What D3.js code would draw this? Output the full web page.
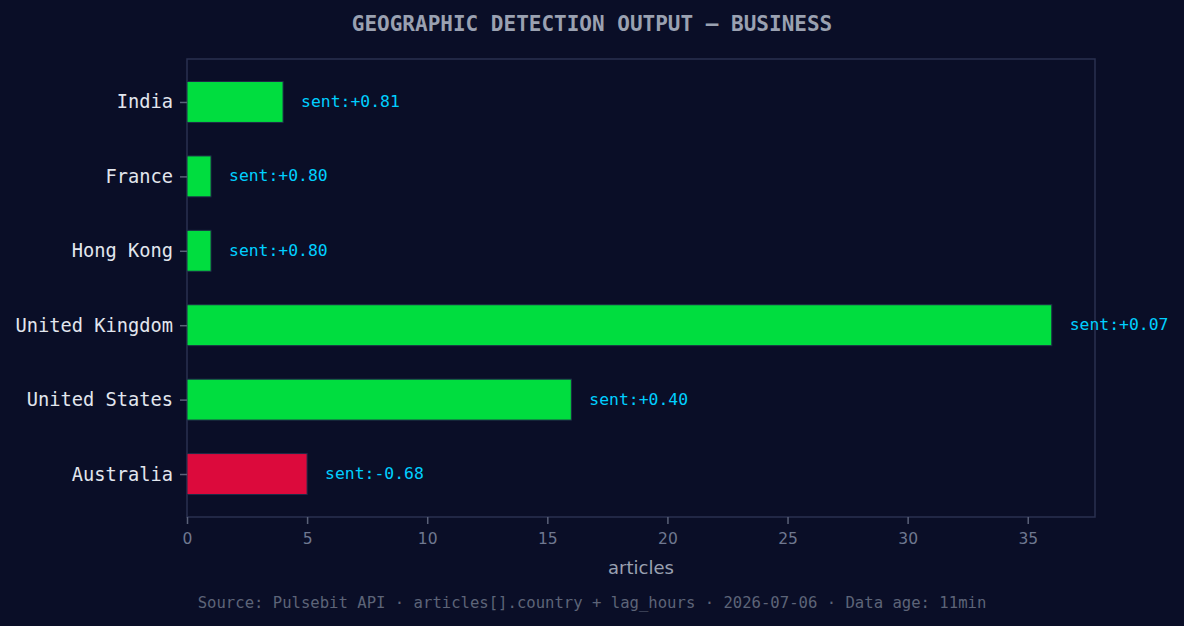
<!DOCTYPE html>
<html><head><meta charset="utf-8">
<script src="https://cdn.jsdelivr.net/npm/d3@7"></script>
<style>html,body{margin:0;padding:0;background:#0a0e27;}svg{display:block;}</style>
</head><body>
<svg id="chart" width="1184" height="626"></svg>
<script>
const countries = ["India","France","Hong Kong","United Kingdom","United States","Australia"];
const articles = [4,1,1,36,16,5];
const sentiment = [0.81,0.80,0.80,0.07,0.40,-0.68];
const xTicks = [0,5,10,15,20,25,30,35];
const title = "GEOGRAPHIC DETECTION OUTPUT — BUSINESS";
const xLabel = "articles";
const footer = "Source: Pulsebit API · articles[].country + lag_hours · 2026-07-06 · Data age: 11min";

const W=1184,H=626;
const m={left:187,right:1095,top:59,bottom:517};
const svg=d3.select("#chart");
svg.append("rect").attr("width",W).attr("height",H).attr("fill","#0a0e27");

const x=d3.scaleLinear().domain([0,d3.max(articles)*1.05]).range([m.left,m.right]);
const y=d3.scaleLinear().domain([-0.5775,5.5775]).range([m.top,m.bottom]);
const barH=0.55*(y(1)-y(0));

// frame
svg.append("rect").attr("x",m.left).attr("y",m.top).attr("width",m.right-m.left).attr("height",m.bottom-m.top)
  .attr("fill","none").attr("stroke","#2a3150").attr("stroke-width",1.5);

// bars
svg.selectAll("rect.bar").data(countries).enter().append("rect").attr("class","bar")
  .attr("x",x(0)).attr("y",(d,i)=>y(i)-barH/2)
  .attr("width",(d,i)=>x(articles[i])-x(0)).attr("height",barH)
  .attr("fill",(d,i)=>sentiment[i]>=0?"#00dd3f":"#dc0a3c")
  .attr("stroke","#1f2b48").attr("stroke-width",1);

// value labels
svg.selectAll("text.val").data(countries).enter().append("text").attr("class","val")
  .attr("x",(d,i)=>x(articles[i])+18).attr("y",(d,i)=>y(i))
  .attr("dy","0.3em").attr("fill","#00cfff")
  .style("font-family","'DejaVu Sans Mono', monospace").style("font-size","16.4px")
  .text((d,i)=>"sent:"+(sentiment[i]>=0?"+":"")+sentiment[i].toFixed(2));

// y axis
const yAxis=svg.append("g").attr("transform",`translate(${m.left},0)`)
  .call(d3.axisLeft(y).tickValues(d3.range(countries.length)).tickFormat(i=>countries[i]).tickSize(7).tickPadding(7));
yAxis.select(".domain").remove();
yAxis.selectAll("line").attr("stroke","#5a6178").attr("stroke-width",1.5);
yAxis.selectAll("text").attr("fill","#e2e6ee").attr("dy","0.32em").style("font-family","'DejaVu Sans Mono', monospace").style("font-size","18.7px");

// x axis
const xAxis=svg.append("g").attr("transform",`translate(0,${m.bottom})`)
  .call(d3.axisBottom(x).tickValues(xTicks).tickSize(7).tickPadding(9));
xAxis.select(".domain").remove();
xAxis.selectAll("line").attr("stroke","#5a6178").attr("stroke-width",1.5);
xAxis.selectAll("text").attr("fill","#6f7890").style("font-family","'DejaVu Sans', sans-serif").style("font-size","15.5px");

svg.append("text").attr("x",(m.left+m.right)/2).attr("y",574).attr("text-anchor","middle")
  .attr("fill","#9aa1b1").style("font-family","'DejaVu Sans', sans-serif").style("font-size","18px").text(xLabel);

svg.append("text").attr("x",592).attr("y",31).attr("text-anchor","middle")
  .attr("fill","#9aa1b1").style("font-family","'DejaVu Sans Mono', monospace").style("font-size","21px").style("font-weight","bold").text(title);

svg.append("text").attr("x",592).attr("y",608).attr("text-anchor","middle")
  .attr("fill","#5d6478").style("font-family","'DejaVu Sans Mono', monospace").style("font-size","15.6px").text(footer);
</script>
</body></html>
